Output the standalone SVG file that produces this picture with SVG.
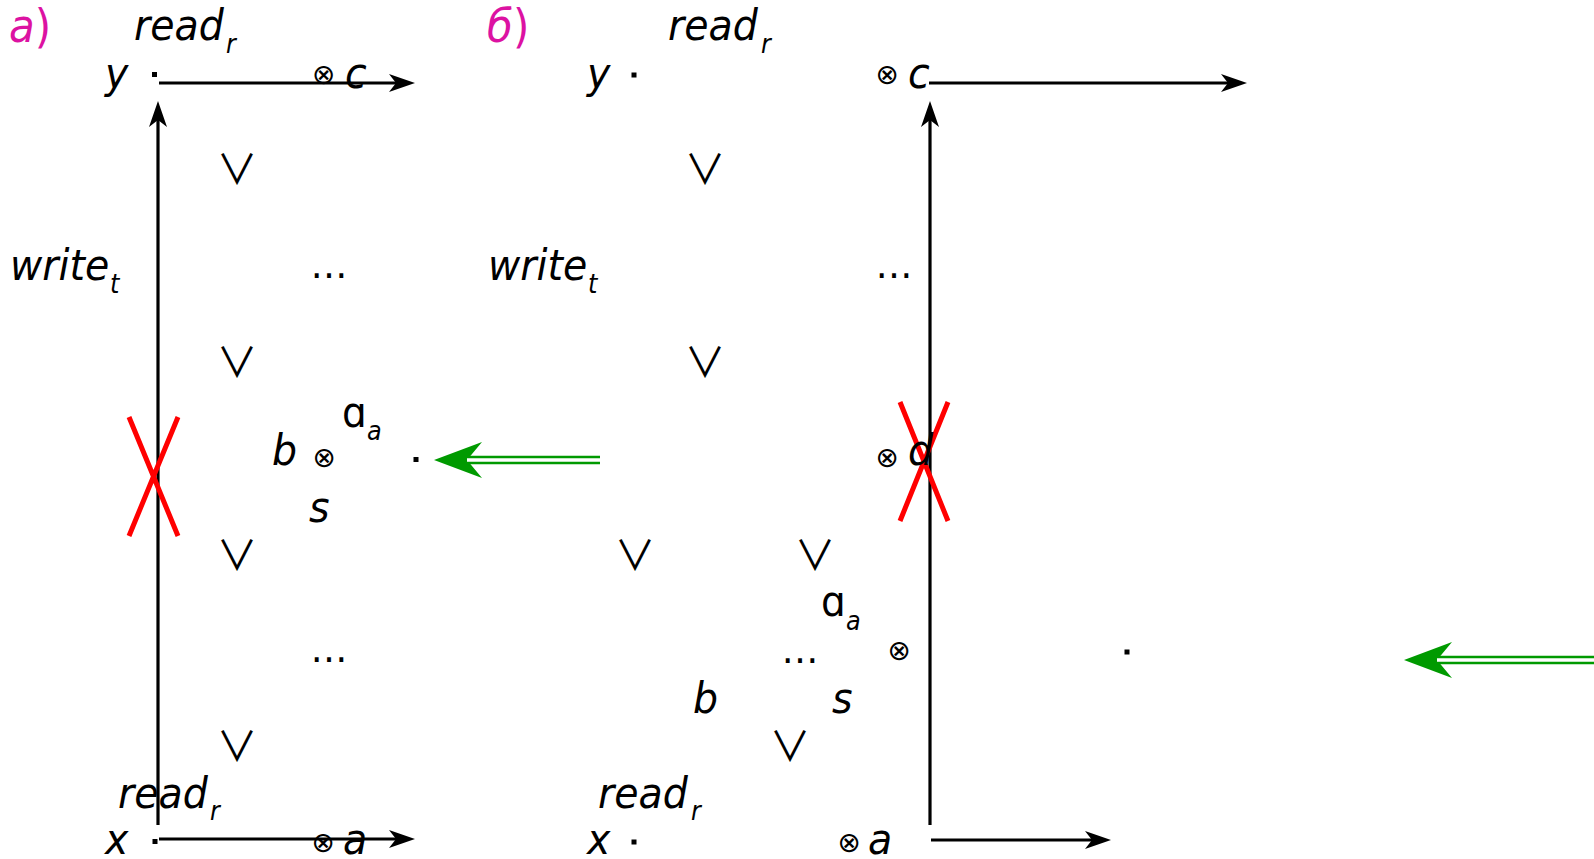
<svg xmlns="http://www.w3.org/2000/svg" width="1594" height="859" viewBox="0 0 1594 859">
<style>
.t{font-family:"DejaVu Sans","Liberation Sans",sans-serif;font-style:italic;font-size:39.5px;fill:#000}
.s{font-family:"DejaVu Sans","Liberation Sans",sans-serif;font-style:italic;font-size:24px;fill:#000}
.u{font-family:"DejaVu Sans","Liberation Sans",sans-serif;font-style:normal;font-size:39px;fill:#000}
.o{font-family:"DejaVu Sans",sans-serif;font-size:28px;fill:#000;text-anchor:middle}
.v{font-family:"Noto Sans CJK JP","DejaVu Sans",sans-serif;font-size:41px;fill:#000;text-anchor:middle}
.e{font-family:"DejaVu Sans","Liberation Sans",sans-serif;font-size:37px;fill:#000;text-anchor:middle}
.m{fill:#dc12a2;font-size:42px}
.ax{fill:none;stroke:#000;stroke-width:3.2;marker-end:url(#ah)}
.gr{fill:none;stroke:#009a00;stroke-width:8.5;marker-end:url(#gh)}
.gw{fill:none;stroke:#fff;stroke-width:3.5}
.rx{stroke:#ff0000;stroke-width:5;fill:none}
.dot{fill:#000}
</style>
<defs>
<marker id="ah" markerUnits="userSpaceOnUse" viewBox="0 0 26 18" markerWidth="26" markerHeight="18" refX="16" refY="9" orient="auto">
<path d="M0,0 L26,9 L0,18 L7,9 Z" fill="#000"/>
</marker>
<marker id="gh" markerUnits="userSpaceOnUse" viewBox="0 0 48 36" markerWidth="48" markerHeight="36" refX="15" refY="18" orient="auto">
<path d="M0,0 L48,18 L0,36 L15,18 Z" fill="#009a00"/>
</marker>
</defs>

<g id="connectors">
<path class="ax" d="M159 83 H405"/>
<path class="ax" d="M158 825 V111"/>
<path class="ax" d="M159 839 H405"/>
<path class="ax" d="M929 83 H1237"/>
<path class="ax" d="M930 825 V111"/>
<path class="ax" d="M931 840 H1101"/>
<path class="gr" d="M600 460 H467"/>
<path class="gw" d="M600 460 H467"/>
<path class="gr" d="M1594 660 H1437"/>
<path class="gw" d="M1594 660 H1437"/>
</g>

<g id="cross-a">
<path class="rx" d="M129 417 L178 536 M178 417 L129 536"/>
</g>
<g id="cross-b">
<path class="rx" d="M900 402 L948 521 M948 402 L900 521"/>
</g>

<g id="panel-a">
<text class="t m" transform="translate(9,42) scale(1,1.08)">a<tspan font-style="normal">)</tspan></text>
<g id="a-read-top"><text class="t" transform="translate(134,40) scale(1,1.1)">read</text><text class="s" transform="translate(226,53) scale(1,1.1)">r</text></g>
<g id="a-y"><text class="t" transform="translate(105,88) scale(1,1.1)">y</text><rect class="dot" x="152" y="72" width="5" height="5"/></g>
<g id="a-c"><text class="o" x="323.5" y="84">⊗</text><text class="t" transform="translate(345,88) scale(1,1.1)">c</text></g>
<g id="a-write"><text class="t" transform="translate(10,280) scale(1,1.1)">write</text><text class="s" transform="translate(110,293) scale(1,1.1)">t</text></g>
<g id="a-v1"><text class="v" x="237" y="184">∨</text></g>
<g id="a-v2"><text class="v" x="237" y="377">∨</text></g>
<g id="a-v3"><text class="v" x="237" y="570">∨</text></g>
<g id="a-v4"><text class="v" x="237" y="761">∨</text></g>
<g id="a-e1"><text class="e" x="329" y="278">…</text></g>
<g id="a-e2"><text class="e" x="329" y="662">…</text></g>
<g id="a-b"><text class="t" transform="translate(272,465) scale(1,1.1)">b</text><text class="o" x="324" y="466.5">⊗</text></g>
<g id="a-alpha"><text class="u" transform="translate(342,427) scale(1,1.1)">ɑ</text><text class="s" transform="translate(367,440) scale(1,1.1)">a</text></g>
<g id="a-s"><text class="t" transform="translate(309,522) scale(1,1.1)">s</text></g>
<g id="a-dot"><rect class="dot" x="413.5" y="457" width="5" height="5"/></g>
<g id="a-read-bot"><text class="t" transform="translate(118,808) scale(1,1.1)">read</text><text class="s" transform="translate(210,820) scale(1,1.1)">r</text></g>
<g id="a-x"><text class="t" transform="translate(105,854) scale(1,1.1)">x</text><rect class="dot" x="152.5" y="839" width="5" height="5"/></g>
<g id="a-a"><text class="o" x="323" y="851.5">⊗</text><text class="t" transform="translate(343,854) scale(1,1.1)">a</text></g>
</g>

<g id="panel-b">
<text class="t m" transform="translate(487,42) scale(1,1.08)">б<tspan font-style="normal">)</tspan></text>
<g id="b-read-top"><text class="t" transform="translate(668,40) scale(1,1.1)">read</text><text class="s" transform="translate(761,53) scale(1,1.1)">r</text></g>
<g id="b-y"><text class="t" transform="translate(587,88) scale(1,1.1)">y</text><rect class="dot" x="631.5" y="72.5" width="5" height="5"/></g>
<g id="b-c"><text class="o" x="887" y="83.5">⊗</text><text class="t" transform="translate(908,88) scale(1,1.1)">c</text></g>
<g id="b-write"><text class="t" transform="translate(488,280) scale(1,1.1)">write</text><text class="s" transform="translate(588,293) scale(1,1.1)">t</text></g>
<g id="b-v1"><text class="v" x="705" y="184">∨</text></g>
<g id="b-v2"><text class="v" x="705" y="377">∨</text></g>
<g id="b-v3"><text class="v" x="635" y="570">∨</text></g>
<g id="b-v4"><text class="v" x="815" y="570">∨</text></g>
<g id="b-v5"><text class="v" x="790" y="761">∨</text></g>
<g id="b-e1"><text class="e" x="894" y="278">…</text></g>
<g id="b-e2"><text class="e" x="800" y="663">…</text></g>
<g id="b-d"><text class="o" x="887" y="466.5">⊗</text><text class="t" transform="translate(908,465) scale(1,1.1)">d</text></g>
<g id="b-alpha"><text class="u" transform="translate(821,616) scale(1,1.1)">ɑ</text><text class="s" transform="translate(846,630) scale(1,1.1)">a</text></g>
<g id="b-o"><text class="o" x="899" y="659.5">⊗</text></g>
<g id="b-b"><text class="t" transform="translate(693,713) scale(1,1.1)">b</text></g>
<g id="b-s"><text class="t" transform="translate(832,713) scale(1,1.1)">s</text></g>
<g id="b-read-bot"><text class="t" transform="translate(598,808) scale(1,1.1)">read</text><text class="s" transform="translate(691,820) scale(1,1.1)">r</text></g>
<g id="b-x"><text class="t" transform="translate(587,854) scale(1,1.1)">x</text><rect class="dot" x="631.5" y="839.5" width="5" height="5"/></g>
<g id="b-a"><text class="o" x="849" y="851.5">⊗</text><text class="t" transform="translate(868,854) scale(1,1.1)">a</text></g>
<g id="b-dot"><rect class="dot" x="1124.5" y="649.5" width="5" height="5"/></g>
</g>
</svg>
